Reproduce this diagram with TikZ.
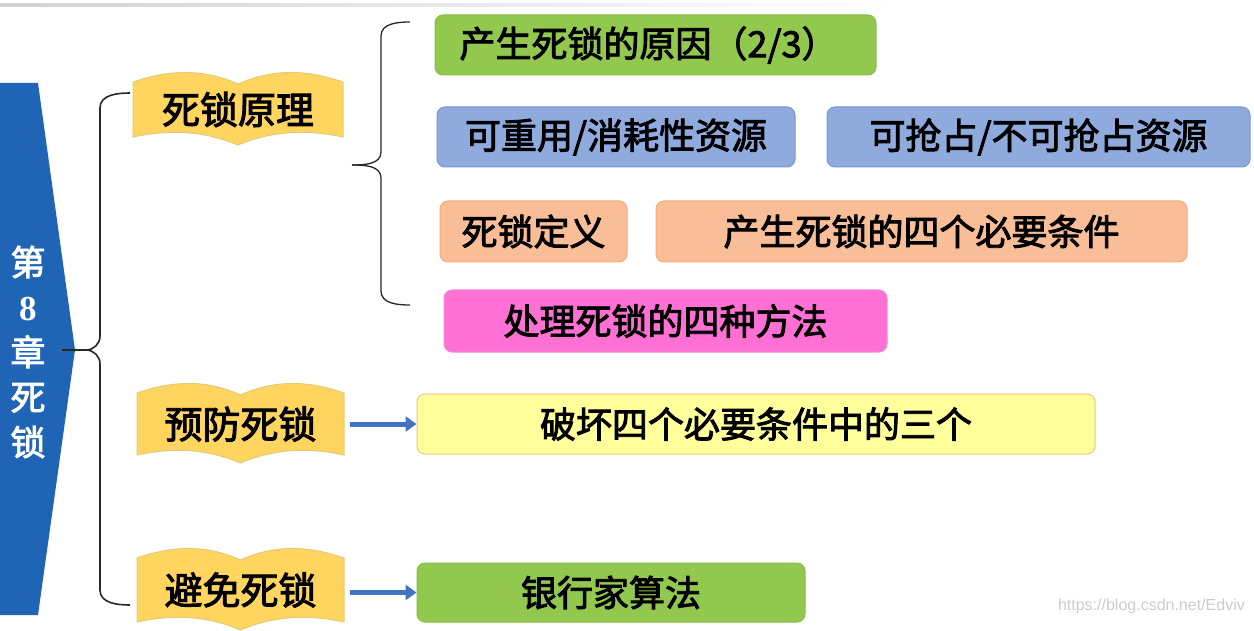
\documentclass[tikz,border=0pt]{standalone}
\usepackage{fontspec}
\setmainfont{Noto Sans CJK SC}
\newfontfamily\heavy{Noto Sans CJK SC}[FakeBold=2.5]
\newfontfamily\wmfont{Liberation Sans}
\newfontfamily\digitfont{Liberation Serif}
\usetikzlibrary{arrows.meta,calc}
\definecolor{leftblue}{RGB}{32,100,182}
\definecolor{bookfill}{RGB}{255,212,95}
\definecolor{bookdraw}{RGB}{225,205,120}
\definecolor{gfill}{RGB}{146,200,78}
\definecolor{gdraw}{RGB}{135,190,70}
\definecolor{bfill}{RGB}{143,170,220}
\definecolor{bdraw}{RGB}{120,150,210}
\definecolor{ofill}{RGB}{249,190,152}
\definecolor{odraw}{RGB}{245,172,120}
\definecolor{pfill}{RGB}{255,112,212}
\definecolor{pdraw}{RGB}{245,140,215}
\definecolor{yfill}{RGB}{255,255,155}
\definecolor{ydraw}{RGB}{245,195,125}
\definecolor{arrblue}{RGB}{68,114,196}
\definecolor{bracec}{RGB}{40,40,40}
\tikzset{
  box/.style={rectangle, rounded corners=8pt, line width=1pt, inner sep=0pt,
    font=\heavy\fontsize{36}{40}\selectfont, text=black},
  greenbox/.style={box, fill=gfill, draw=gdraw},
  bluebox/.style={box, fill=bfill, draw=bdraw},
  orangebox/.style={box, fill=ofill, draw=odraw},
  pinkbox/.style={box, fill=pfill, draw=pdraw},
  yellowbox/.style={box, fill=yfill, draw=ydraw},
  bookst/.style={fill=bookfill, draw=bookdraw, line width=1pt},
  booklabel/.style={inner sep=0pt, font=\heavy\fontsize{38}{42}\selectfont, text=black},
  brace/.style={draw=bracec, line width=1.6pt},
  bluearrow/.style={draw=arrblue, line width=5pt, -{Triangle[length=11pt,width=15pt]}},
}
\newcommand\bookshape[6]{% name, l, r, t, b, text
  \pgfmathsetmacro\bm{(#2+#3)/2}
  \pgfmathsetmacro\bw{#3-#2}
  \pgfmathsetmacro\ca{#2+0.18*\bw}
  \pgfmathsetmacro\cb{\bm-0.16*\bw}
  \pgfmathsetmacro\cc{\bm+0.16*\bw}
  \pgfmathsetmacro\cd{#3-0.18*\bw}
  \pgfmathsetmacro\cy{(#4+#5)/2}
  \draw[bookst] (#2,#4) .. controls (\ca,#4-13) and (\cb,#4-13) .. (\bm,#4+2)
     .. controls (\cc,#4-13) and (\cd,#4-13) .. (#3,#4)
     -- (#3,#5) .. controls (\cd,#5-8) and (\cc,#5-6) .. (\bm,#5+8)
     .. controls (\cb,#5-6) and (\ca,#5-8) .. (#2,#5) -- cycle;
  \node[booklabel, minimum width=\bw pt] (#1) at (\bm,\cy) {#6};
}
\begin{document}
\begin{tikzpicture}[x=1pt,y=-1pt]
\useasboundingbox[fill=white] (0,0) rectangle (1254,631);
% faint top rule
\shade[left color=gray!35, right color=white] (0,4) rectangle (900,7);
% left chapter banner
\fill[leftblue] (0,83) -- (38,83) -- (75,350) -- (38,615) -- (0,615) -- cycle;
\node[text=white, align=center, inner sep=0pt, font=\heavy\fontsize{35}{45}\selectfont] (ch) at (28,352)
  {第\\{\digitfont\bfseries 8}\\章\\死\\锁};
\coordinate (chout) at (62,350);
% books
\bookshape{b1}{133}{343}{82}{137}{死锁原理}
\bookshape{b2}{137}{344}{393}{455}{预防死锁}
\bookshape{b3}{137}{344}{558}{622}{避免死锁}
% brace 1
\coordinate (h1) at (130,93);
\coordinate (h3) at (130,605);
\coordinate (m1) at (86,350);
\draw[brace] (chout) -- (m1);
\draw[brace] (h1) to[out=180,in=90] (100,108) -- (100,336) to[out=-90,in=0] (m1);
\draw[brace] (m1) to[out=0,in=90] (100,364) -- (100,590) to[out=-90,in=180] (h3);
% right boxes
\node[greenbox, minimum width=441pt, minimum height=60pt] (g1) at (655.5,45) {\hspace*{-14pt}产生死锁的原因（2/3）};
\node[bluebox, minimum width=358pt, minimum height=60pt] (u1) at (616,137) {可重用/消耗性资源};
\node[bluebox, minimum width=423pt, minimum height=60pt] (u2) at (1038.5,137) {可抢占/不可抢占资源};
\node[orangebox, minimum width=187pt, minimum height=61pt] (o1) at (533.5,231.5) {死锁定义};
\node[orangebox, minimum width=531pt, minimum height=61pt] (o2) at (921.5,231.5) {产生死锁的四个必要条件};
\node[pinkbox, minimum width=443pt, minimum height=62pt] (p1) at (665.5,321) {处理死锁的四种方法};
\node[yellowbox, minimum width=678pt, minimum height=60pt] (y1) at (756,424) {破坏四个必要条件中的三个};
\node[greenbox, minimum width=388pt, minimum height=59pt] (g2) at (611,592.5) {银行家算法};
% brace 2
\coordinate (t2) at (410,22);
\coordinate (e2) at (410,305);
\coordinate (m2) at (352,165);
\draw[brace, line width=1.3pt] (t2) to[out=180,in=90] (381,36) -- (381,152) to[out=-90,in=0] (m2);
\draw[brace, line width=1.3pt] (m2) to[out=0,in=90] (381,178) -- (381,291) to[out=-90,in=180] (e2);
% arrows
\draw[bluearrow] ([xshift=6pt]b2.east |- y1.west) -- (y1.west);
\draw[bluearrow] ([xshift=6pt]b3.east |- g2.west) -- (g2.west);
% watermark
\node[text=gray!40, font=\wmfont\fontsize{16}{18}\selectfont, anchor=east, inner sep=0pt] (wm) at (1245,606) {https://blog.csdn.net/Edviv};
\end{tikzpicture}
\end{document}
